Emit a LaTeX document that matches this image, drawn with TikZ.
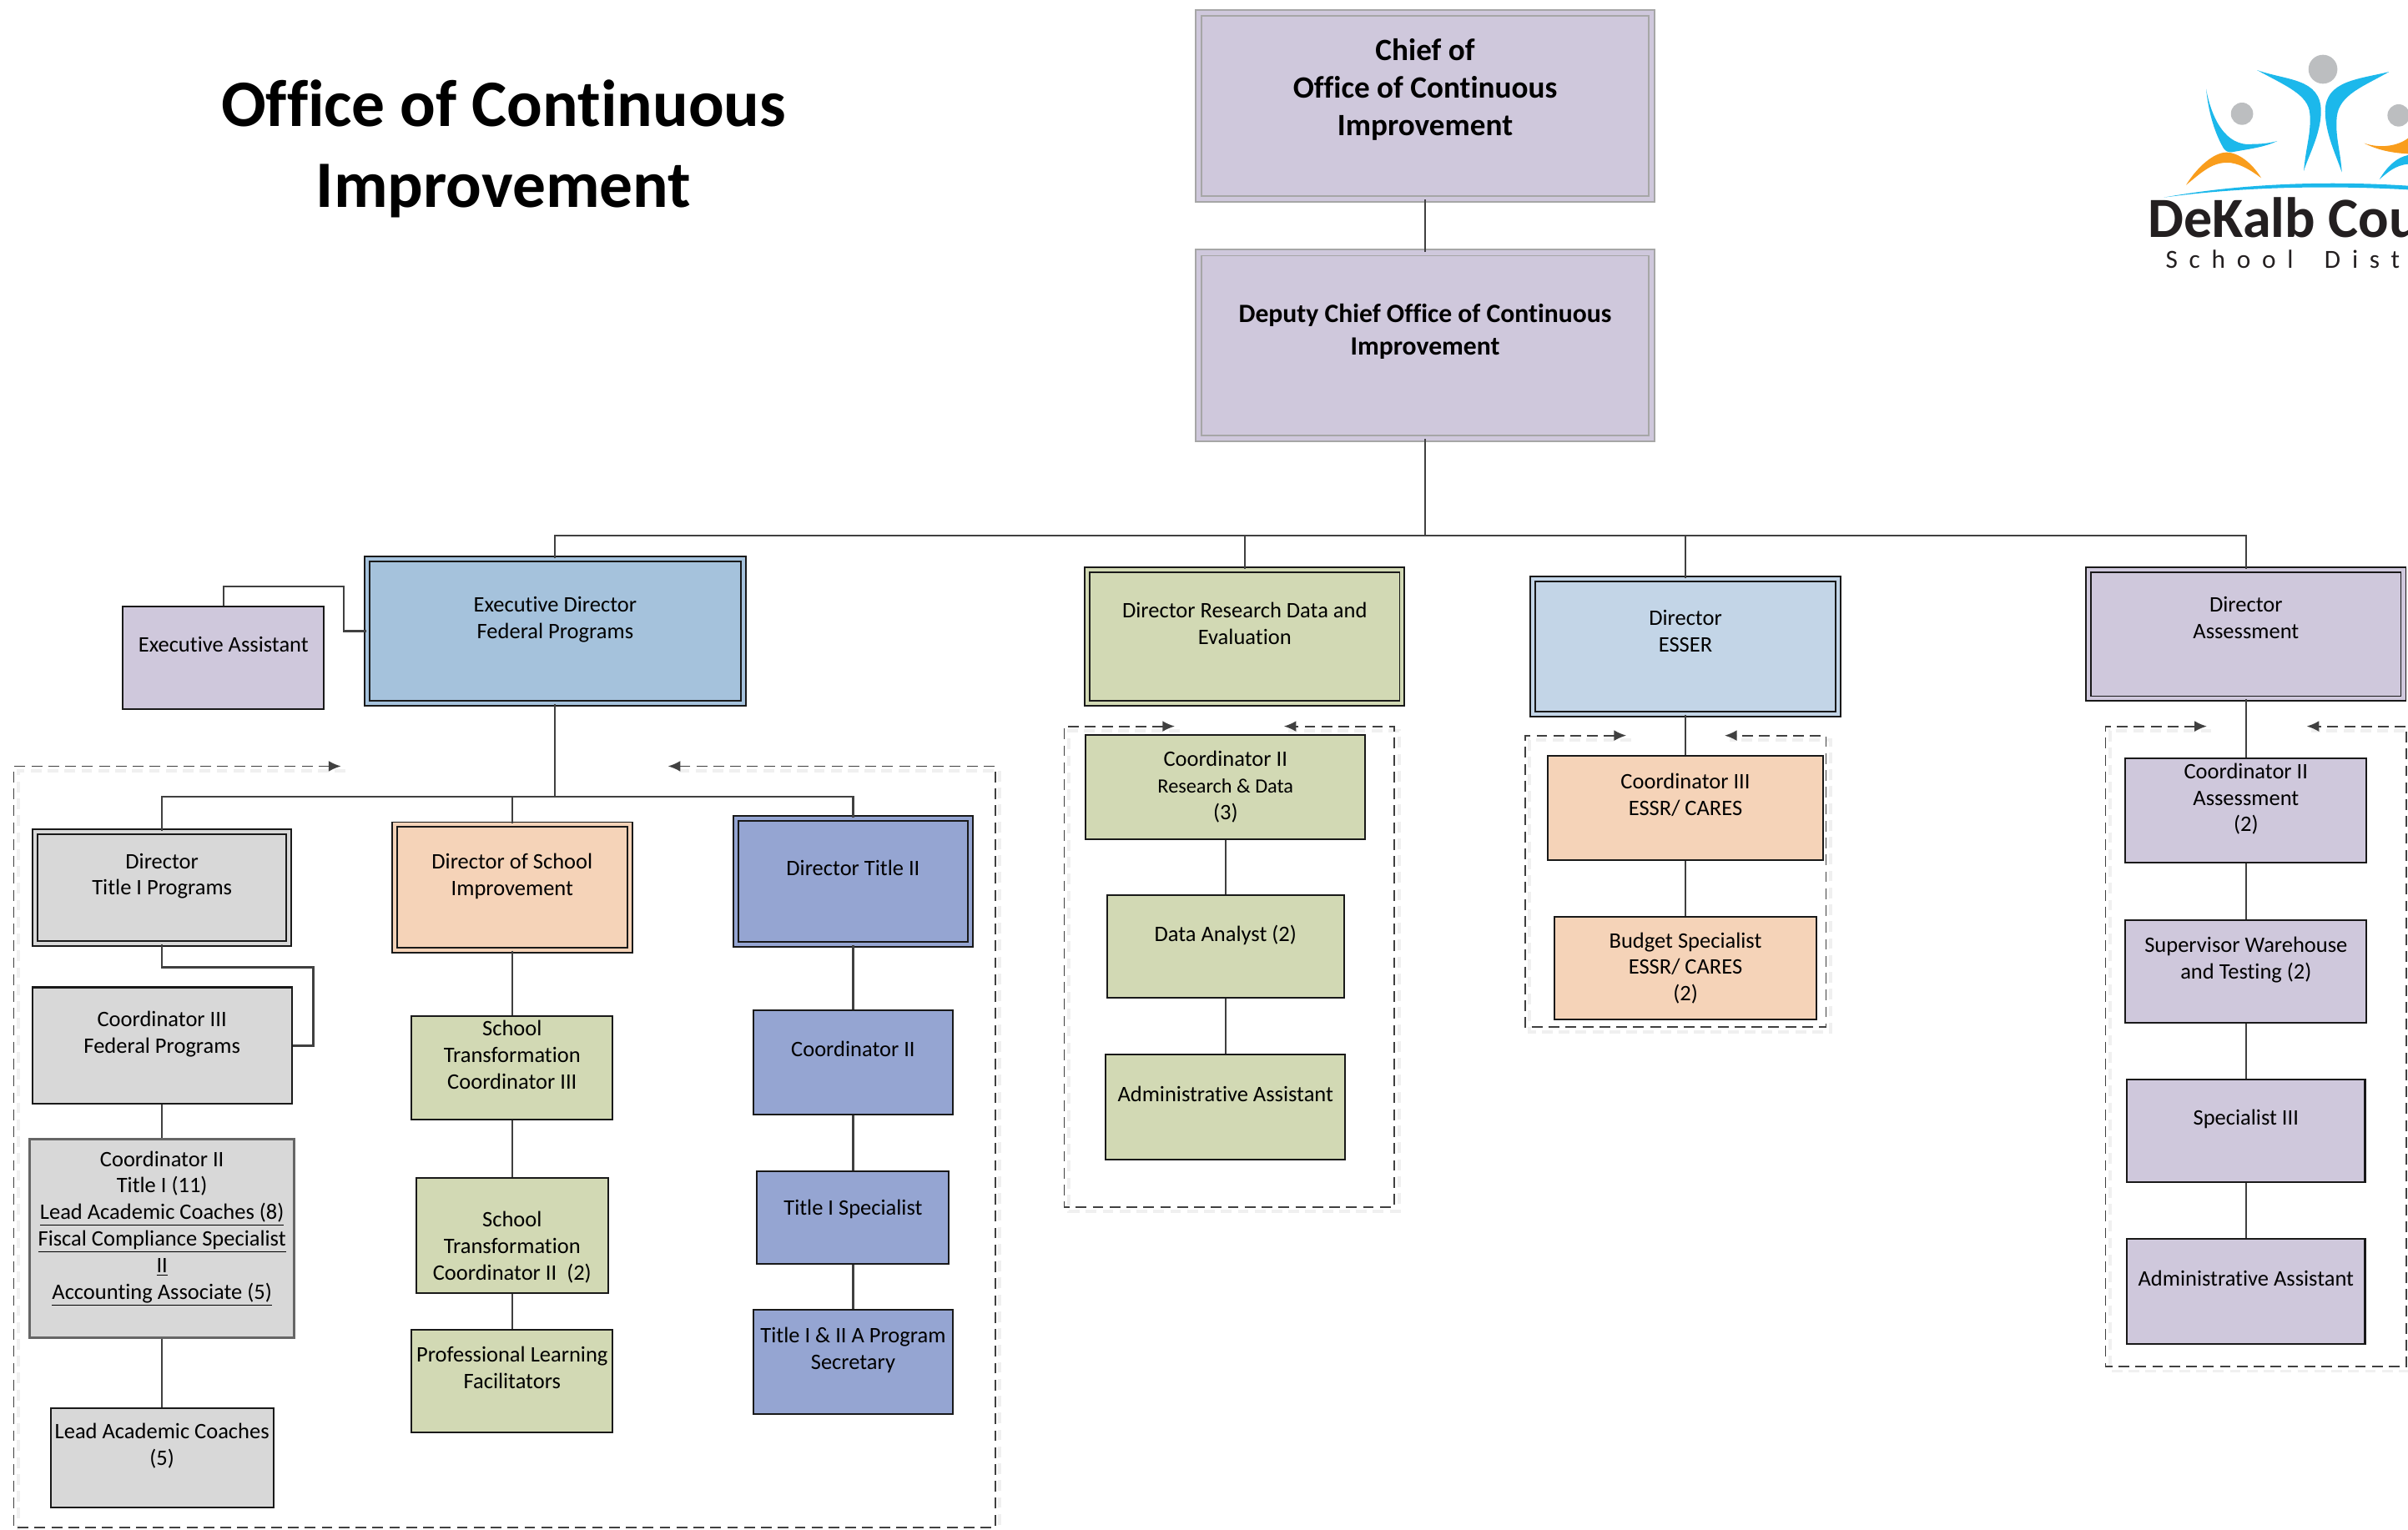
\documentclass[tikz,border=0pt]{standalone}
\usepackage{fontspec}
\setmainfont[Ligatures=NoCommon]{Carlito}
\usetikzlibrary{arrows.meta}
\definecolor{boxlav}{HTML}{CFC8DC}
\definecolor{boxsky}{HTML}{A5C2DC}
\definecolor{boxpale}{HTML}{C3D5E7}
\definecolor{boxgreen}{HTML}{D2D9B4}
\definecolor{boxpeach}{HTML}{F5D3B8}
\definecolor{boxgray}{HTML}{D8D8D8}
\definecolor{boxperi}{HTML}{95A5D2}
\definecolor{linegray}{HTML}{404040}
\definecolor{logoblue}{HTML}{1CB8EB}
\definecolor{logoorange}{HTML}{F99D1C}
\definecolor{logogray}{HTML}{BCBEC0}
\definecolor{logoink}{HTML}{231F20}
\tikzset{
	plainbox/.style={draw=black!90, line width=1.1pt, fill=#1, inner sep=0pt, align=center, font=\fontsize{14.4}{17.3}\selectfont},
	dblbox/.style={plainbox=#1, double=#1, line width=1pt, double distance=2.2pt},
	sz/.style 2 args={minimum width=#1, minimum height=#2},
	conn/.style={draw=linegray, line width=1.2pt},
	dashbox/.style={draw=linegray, line width=1pt, dash pattern=on 7pt off 4pt, {Latex[length=8pt,width=7pt]}-{Latex[length=8pt,width=7pt]}}
}
\begin{document}
\begin{tikzpicture}[x=1pt, y=-1pt]
\useasboundingbox (0,0) rectangle (1568,996);

\node[font=\fontsize{43.2}{53}\selectfont\bfseries, align=center, inner sep=0pt] (title) at (328,97) {Office of Continuous\\Improvement};

% top of the chart
\node[dblbox=boxlav, draw=black!35, double distance=3pt, sz={295}{121}, font=\fontsize{20.2}{24.5}\selectfont\bfseries] (chief) at (928,69) {Chief of\\Office of Continuous\\Improvement\\~};
\node[dblbox=boxlav, draw=black!35, double distance=3pt, sz={295}{121}, font=\fontsize{17.2}{21}\selectfont\bfseries] (deputy) at (928,225) {Deputy Chief Office of Continuous\\Improvement\\~};

% directors
\node[dblbox=boxsky, sz={245}{94}] (execdir) at (361.5,411) {Executive Director\\Federal Programs\\~};
\node[dblbox=boxgreen, sz={205}{87}] (dirres) at (810.5,414.5) {Director Research Data and\\Evaluation\\~};
\node[dblbox=boxpale, sz={199}{88}] (diress) at (1097.5,421) {Director\\ESSER\\[3pt]~};
\node[dblbox=boxlav, sz={205}{84}] (diras) at (1462.5,413) {Director\\Assessment\\[4pt]~};
\node[plainbox=boxlav, sz={131}{67}] (execasst) at (145.5,428.5) {Executive Assistant\\~};

% federal programs columns
\node[dblbox=boxgray, sz={165}{73}] (dirti) at (105.5,578) {Director\\Title I Programs\\~};
\node[plainbox=boxgray, sz={169}{76}] (coriii) at (105.5,681) {Coordinator III\\Federal Programs\\~};
\node[plainbox=boxgray, draw=black!60, line width=1.6pt, sz={172}{129}] (corii) at (105.5,806.5) {Coordinator II\\Title I (11)\\\underline{Lead Academic Coaches (8)}\\\underline{Fiscal Compliance Specialist}\\\underline{II}\\\underline{Accounting Associate (5)}\\~};
\node[plainbox=boxgray, sz={145}{65}] (lead) at (105.5,949.5) {Lead Academic Coaches\\(5)\\~};

\node[dblbox=boxpeach, sz={153}{82}] (dirsch) at (333.5,578) {Director of School\\Improvement\\~};
\node[plainbox=boxgreen, sz={131}{67}] (stciii) at (333.5,695.5) {School\\Transformation\\Coordinator III\\~};
\node[plainbox=boxgreen, sz={125}{75}] (stcii) at (333.5,804.5) {~\\[8pt]School\\Transformation\\Coordinator II~~(2)};
\node[plainbox=boxgreen, sz={131}{67}] (plf) at (333.5,899.5) {Professional Learning\\Facilitators\\~};

\node[dblbox=boxperi, sz={153}{82}] (dirtii) at (555.5,574) {Director Title II\\~};
\node[plainbox=boxperi, sz={130}{68}] (corb) at (555.5,692) {Coordinator II\\~};
\node[plainbox=boxperi, sz={125}{60}] (tispec) at (555.5,793) {Title I Specialist\\[-4pt]~};
\node[plainbox=boxperi, sz={130}{68}] (tisec) at (555.5,887) {Title I \& II A Program\\Secretary\\~};

% research column
\node[plainbox=boxgreen, sz={182}{68}] (corres) at (798,512.5) {Coordinator II\\{\fontsize{13.2}{17.3}\selectfont Research \& Data}\\(3)};
\node[plainbox=boxgreen, sz={154}{67}] (analyst) at (798,616.5) {Data Analyst (2)\\~};
\node[plainbox=boxgreen, sz={156}{68}] (resadmin) at (798,721) {Administrative Assistant\\~};

% esser column
\node[plainbox=boxpeach, sz={179}{68}] (coress) at (1097.5,526) {Coordinator III\\ESSR/ CARES\\~};
\node[plainbox=boxpeach, sz={171}{67}] (budget) at (1097.5,630.5) {Budget Specialist\\ESSR/ CARES\\(2)};

% assessment column
\node[plainbox=boxlav, sz={157}{68}] (coras) at (1462.5,528) {Coordinator II\\Assessment\\(2)\\~};
\node[plainbox=boxlav, sz={157}{67}] (super) at (1462.5,632.5) {Supervisor Warehouse\\and Testing (2)\\~};
\node[plainbox=boxlav, sz={155}{67}] (spec) at (1462.5,736.5) {Specialist III\\~};
\node[plainbox=boxlav, sz={155}{68}] (asadmin) at (1462.5,841) {Administrative Assistant\\~};

% connectors
\coordinate (bus) at (928,349);
\coordinate (subbus) at (361.5,519);
\coordinate (eaturn) at (224,382);
\coordinate (corturn) at (204,630);
\draw[conn] (chief) -- (deputy);
\draw[conn] (deputy) -- (bus);
\foreach \top in {execdir, dirres, diress, diras} {
	\draw[conn] (\top.north) |- (bus);
	};
\draw[conn] (execdir) -- (subbus);
\foreach \top in {dirti, dirsch, dirtii} {
	\draw[conn] (\top.north) |- (subbus);
	};
\draw[conn] (execasst.north) |- (eaturn) |- (execdir.west);
\draw[conn] (dirti.south) |- (corturn) |- (coriii.east);
\foreach \a/\b in {coriii/corii, corii/lead, dirsch/stciii, stciii/stcii, stcii/plf, dirtii/corb, corb/tispec, tispec/tisec, corres/analyst, analyst/resadmin, diress/coress, coress/budget, diras/coras, coras/super, super/spec, spec/asadmin} {
	\draw[conn] (\a) -- (\b);
	};

% dashed frames, left edge / arrow / arrow / right edge / top / bottom
\foreach \xl/\xa/\xb/\xr/\yt/\yb in {9/222/435/648/499/995, 693/765/836/908/473/786, 993/1059/1123/1189/479/669, 1371/1437/1502/1567/473/890} {
	\draw[draw=black!6, line width=2pt, dash pattern=on 7pt off 4pt] (\xa+3,\yt+3) -| (\xl+3,\yb+3) -- (\xr+3,\yb+3) -- (\xr+3,\yt+3) -- (\xb+3,\yt+3);
	\draw[dashbox] (\xa,\yt) -| (\xl,\yb) -| (\xr,\yt) -- (\xb,\yt);
	};

% logo
\begin{scope}[shift={(1358.3,0)}, x=0.1811pt, y=-0.1811pt]
\fill[logogray] (852,249) circle (52) (561,409) circle (40) (1124,415) circle (40);
\fill[logoblue] (615,252) .. controls (720,290) and (845,280) .. (845,400) .. controls (845,480) and (800,560) .. (783,615) .. controls (790,530) and (810,480) .. (805,410) .. controls (800,340) and (720,310) .. (615,252) -- cycle;
\fill[logoblue] (1090,258) .. controls (980,285) and (860,290) .. (860,400) .. controls (860,480) and (900,560) .. (920,620) .. controls (915,540) and (895,490) .. (902,420) .. controls (910,340) and (1000,310) .. (1090,258) -- cycle;
\fill[logoblue] (432,320) .. controls (450,420) and (500,530) .. (600,518) .. controls (630,518) and (660,515) .. (688,507) .. controls (640,530) and (590,535) .. (525,547) .. controls (510,548) and (500,545) .. (490,525) .. controls (460,470) and (440,400) .. (432,320) -- cycle;
\fill[logoorange] (360,665) .. controls (400,600) and (460,548) .. (505,548) .. controls (550,548) and (600,590) .. (630,640) .. controls (590,610) and (545,583) .. (505,585) .. controls (450,585) and (410,625) .. (360,665) -- cycle;
\fill[logoorange] (1000,515) .. controls (1060,535) and (1120,525) .. (1158,497) -- (1158,553) .. controls (1100,550) and (1050,540) .. (1000,515) -- cycle;
\fill[logoblue] (1055,645) .. controls (1085,595) and (1120,565) .. (1158,558) -- (1158,590) .. controls (1110,595) and (1085,620) .. (1055,645) -- cycle;
\fill[logoblue] (280,710) .. controls (500,670) and (800,645) .. (1158,668) -- (1158,682) .. controls (800,662) and (500,680) .. (280,710) -- cycle;
\end{scope}
\node[anchor=base west, inner sep=0pt, text=logoink, font=\fontsize{37}{37}\selectfont\bfseries] (logoname) at (1398.6,154.8) {DeKalb Cou};
\node[anchor=base west, inner sep=0pt, text=logoink, font=\fontsize{17}{17}\selectfont\addfontfeature{LetterSpace=44}] (logosub) at (1410,174.4) {School\hspace{9pt} Dist};
\end{tikzpicture}
\end{document}
